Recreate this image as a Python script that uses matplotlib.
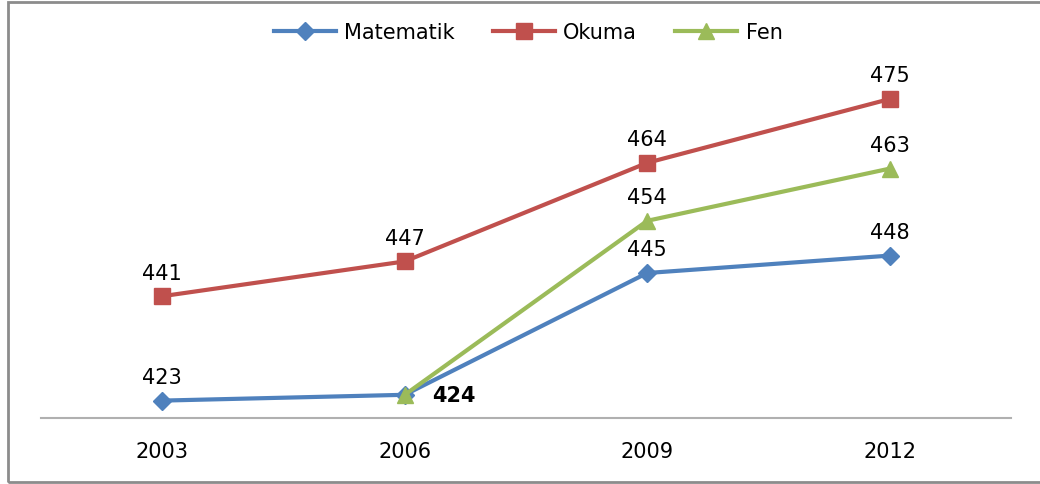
import numpy as np
import matplotlib
matplotlib.use("Agg")
import matplotlib.pyplot as plt
from matplotlib.patches import Rectangle

years = ["2003", "2006", "2009", "2012"]
matematik = [423, 424, 445, 448]
okuma = [441, 447, 464, 475]
fen = [np.nan, 424, 454, 463]

fig = plt.figure(figsize=(10.4, 4.84), dpi=100)
ax = fig.add_axes([41/1040, 1-418/484, 970/1040, (418-70)/484])

x = np.arange(len(years)) + 0.5
c_m, c_o, c_f = "#4F81BD", "#C0504D", "#9BBB59"
ax.plot(x, matematik, color=c_m, lw=3, marker="D", ms=9, label="Matematik", zorder=3)
ax.plot(x, okuma, color=c_o, lw=3, marker="s", ms=11, label="Okuma", zorder=3)
ax.plot(x, fen, color=c_f, lw=3, marker="^", ms=12, label="Fen", zorder=4)

fs = 15
ax.set_xlim(0, 4)
ax.set_ylim(420, 480)
ax.set_yticks([])
ax.set_xticks(x)
ax.set_xticklabels(years, fontsize=fs)
ax.tick_params(axis="x", length=0, pad=17)
for s in ["top", "right", "left"]:
    ax.spines[s].set_visible(False)
ax.spines["bottom"].set_color("#B0B0B0")
ax.spines["bottom"].set_linewidth(1.5)

def lab(xi, v, **kw):
    ax.annotate(str(v), (xi, v), textcoords="offset points", fontsize=fs, **kw)

for i, v in enumerate(matematik):
    if i == 1:
        continue
    lab(x[i], v, xytext=(0, 9), ha="center", va="bottom")
for i, v in enumerate(okuma):
    lab(x[i], v, xytext=(0, 9), ha="center", va="bottom")
for i, v in enumerate(fen):
    if np.isnan(v):
        continue
    if i == 1:
        lab(x[i], v, xytext=(20, -1), ha="left", va="center", fontweight="bold")
    else:
        lab(x[i], v, xytext=(0, 9), ha="center", va="bottom")

leg = ax.legend(loc="upper center", bbox_to_anchor=(0.5 + 2/970, 1 + 66/348), ncol=3,
                frameon=False, fontsize=fs, handlelength=3.0, columnspacing=1.8,
                handletextpad=0.4)

fig.patches.append(Rectangle((8/1040, 2/484), 1.1, 1 - 4/484, transform=fig.transFigure,
                             fill=False, edgecolor="#8C8C8C", lw=2, figure=fig))

fig.savefig("out.png", dpi=100)
